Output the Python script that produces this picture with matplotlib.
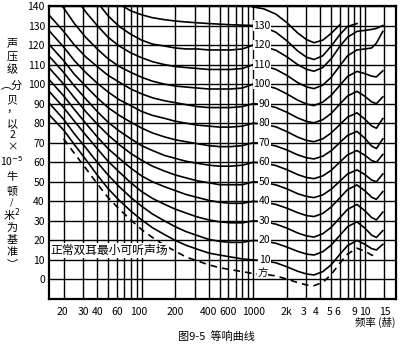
import matplotlib
matplotlib.use('Agg')
import matplotlib.pyplot as plt
import numpy as np
from matplotlib.transforms import ScaledTranslation

plt.rcParams['font.family'] = ['Noto Sans CJK SC', 'DejaVu Sans']

# frequency grid (Hz) the readings were taken at
freq = [15, 20, 25, 31.5, 40, 50, 63, 80, 100, 125, 160, 200, 250, 315, 400, 500, 630, 800, 1000,
        1250, 1600, 2000, 2500, 3000, 3500, 4200, 5000, 6000, 7000, 8500, 10000, 11500, 12700, 14500]

# sound pressure level (dB) of each equal-loudness contour, None = not drawn
maf = [None, 72, 64.5, 57, 49, 42, 36, 30.5, 25.5, 21.5, 17.5, 14.5, 11.5, 9.5, 7.5, 6, 5, 4, 3,
       2.7, 1.8, 0.2, -1.6, -2.8, -3.2, -1.5, 2.5, 8.5, 13, 16, 14.5, 12.5, 11.8, None]
phon_10 = [84, 76.5, 69, 61.5, 53.5, 46.5, 40.5, 35, 30.5, 26.5, 23, 20, 17.5, 15.5, 13.5, 12.5, 11.5, 10.5, 10,
           9.6, 8.5, 6.5, 4.2, 2.8, 2.3, 4, 7.5, 13, 17.3, 20, 18, 15.8, 15.1, 18]
phon_20 = [90, 82, 74.5, 67.5, 60, 53.5, 47.5, 42, 37.5, 33.5, 30, 27, 24.5, 22.5, 20.5, 19.5, 19, 19, 20,
           19.6, 18.5, 16.6, 14.4, 13, 12.5, 14.2, 17.6, 22.7, 27, 29.5, 26.3, 22.7, 21.5, 25]
phon_30 = [96, 88, 81, 74, 67, 60.5, 55, 49.5, 45, 41.5, 38.5, 36, 34, 32, 30.5, 29.5, 29, 29, 30,
           29.6, 28.3, 26.3, 23.8, 22.3, 21.7, 23.4, 26.7, 31.7, 35.9, 38.4, 35.2, 31.7, 30.5, 34.5]
phon_40 = [102, 94, 87, 80, 73, 67, 62, 57, 53, 50, 47.5, 45.5, 43.5, 42, 40.5, 39.5, 39, 39, 40,
           39.6, 38.4, 36.5, 34.2, 32.7, 32.2, 33.8, 37.1, 41.9, 46, 48.4, 45.4, 42.1, 41, 45]
phon_50 = [108, 100, 93, 86, 79.5, 74, 69, 64.5, 61, 58, 55.5, 53.5, 52, 50.5, 49.5, 48.5, 48.5, 48.5, 50,
           49.6, 48.4, 46.4, 43.9, 42.5, 41.9, 43.3, 46.2, 50.4, 54, 56.1, 53.7, 50.9, 50, 54]
phon_60 = [114, 106, 99, 92.5, 86, 80.5, 76, 72, 68.5, 66, 63.5, 62, 60.5, 59.5, 58.5, 58, 58, 58.5, 60,
           59.6, 58.3, 56.2, 53.7, 52.2, 51.6, 53, 55.9, 60.2, 63.8, 66, 63.6, 60.9, 60, 64]
phon_70 = [120, 112, 105, 99, 93, 88, 84, 80.5, 77.5, 75, 73, 71.5, 70.5, 69.5, 68.5, 68, 68, 68.5, 70,
           69.6, 68.3, 66.3, 63.8, 62.3, 61.7, 63.1, 65.9, 70.2, 73.7, 75.8, 72.3, 68.3, 67, 72]
phon_80 = [127, 119, 112, 106, 100.5, 96, 92, 89, 86, 84, 82.5, 81, 80, 79, 78.5, 78, 78, 78.5, 80,
           79.5, 78.1, 75.7, 72.9, 71.2, 70.5, 72, 75, 79.4, 83.1, 85.3, 82.1, 78.6, 77.4, 82.4]
phon_90 = [135, 127, 120, 114, 109, 104.5, 101, 97.5, 95, 93, 91.5, 90.5, 89.5, 88.5, 88, 88, 88, 88.5, 90,
           89.5, 88, 85.6, 82.7, 80.9, 80.2, 81.8, 85, 89.9, 93.9, 96.3, 93.8, 90.9, 90, 93.5]
phon_100 = [147, 139, 131, 124, 118, 113, 109, 106, 103.5, 101.5, 100, 99, 98.5, 98, 97.5, 97.5, 97.5, 98, 100,
            99.5, 97.8, 95, 91.8, 89.8, 89, 90.8, 94.3, 99.5, 103.9, 106.5, 105.4, 104.1, 103.7, 106.8]
phon_110 = [None, 153, 145, 137, 130, 124, 119.5, 116, 113.5, 111.5, 110, 109, 108.5, 108, 107.5, 107.5, 107.5, 108, 110,
            109.4, 107.5, 104.5, 100.8, 98.6, 97.7, 99.5, 103.5, 109.5, 114.5, 117.5, 118, 118.5, 121, 127]
phon_120 = [None, None, None, 150, 142, 135, 129.5, 125.5, 122.5, 120.5, 119.5, 118.5, 118, 118, 117.5, 117.5, 117.5, 118, 120,
            119.3, 117.3, 114, 110, 107.6, 106.6, 108.5, 113, 119.5, 124, 127, 127.5, 128, 128.5, 130]
phon_130 = [None, None, None, None, None, None, 141, 137.5, 135.5, 134, 133, 132.3, 131.8, 131.4, 131, 130.7, 130.4, 130.2, 130,
            129.2, 126.5, 122.2, 117, 113.8, 112.6, 114.5, 119.5, 125.5, 129.5, 131, None, None, None, None]
phon_140 = [None] * 17 + [141, 139.5,
            138.5, 135.8, 131.5, 126.2, 122.8, 121.2, 122.5, 126, 130.5, None, None, None, None, None, None]

solid_curves = [phon_10, phon_20, phon_30, phon_40, phon_50, phon_60, phon_70,
                phon_80, phon_90, phon_100, phon_110, phon_120, phon_130, phon_140]
phon_labels = ['10', '20', '30', '40', '50', '60', '70', '80', '90', '100', '110', '120', '130']
phon_levels = [10, 20, 30, 40, 50, 60, 70, 80, 90, 100, 110, 120, 130]

ytick_vals = list(range(0, 150, 10))
xtick_vals = [20, 30, 40, 60, 100, 200, 400, 600, 1000, 2000, 3000, 4000, 5000, 6000, 9000, 10000, 15000]
xtick_text = ['20', '30', '40', '60', '100', '200', '400', '600', '1000', '2k', '3', '4', '5', '6', '9', '10', '15']
xtick_shift = [-1, 0, 0, 0, -2, 0, 0, 0, 0, 0, -2, -3, -1, -2, -4, 0, 0]
grid_freq = [20, 30, 40, 50, 60, 70, 80, 90, 100, 200, 300, 400, 500, 600, 700, 800, 900, 1000,
             2000, 3000, 4000, 5000, 6000, 7000, 8000, 9000, 10000, 15000]

fig = plt.figure(figsize=(4.12, 3.52), dpi=100)
ax = fig.add_axes([0.119, 0.1506, 0.842, 0.8324])
ax.set_xscale('log')
ax.set_xlim(14.8, 19000)
ax.set_ylim(-10, 140)

# grid lines: drawn straight at the grid positions
for g in grid_freq:
    ax.axvline(g, color='black', linewidth=1.0, zorder=1)
for lev in range(-10, 150, 10):
    ax.axhline(lev, color='black', linewidth=1.0, zorder=1)

for c in solid_curves:
    ax.plot(freq, np.array(c, dtype=float), color='black', linewidth=1.2, zorder=2)
ax.plot(freq, np.array(maf, dtype=float), color='black', linewidth=1.2, linestyle=(0, (4, 3)), zorder=2)

# ticks
ax.set_xticks(xtick_vals)
ax.set_xticklabels(xtick_text, fontsize=7.5)
ax.minorticks_off()
ax.set_yticks(ytick_vals)
ax.set_yticklabels([str(v) for v in ytick_vals], fontsize=7.5)
ax.tick_params(which='both', length=0)
ax.tick_params(axis='x', pad=6)
ax.tick_params(axis='y', pad=3)
for lab, dx in zip(ax.get_xticklabels(), xtick_shift):
    lab.set_transform(lab.get_transform() + ScaledTranslation(dx / 72, 0, fig.dpi_scale_trans))
for s in ax.spines.values():
    s.set_linewidth(1.6)

# phon labels at 1000 Hz
for lab, lev in zip(phon_labels, phon_levels):
    ax.text(1420, lev, lab, fontsize=7.5, ha='right', va='center', zorder=3,
            bbox=dict(facecolor='white', edgecolor='none', pad=0.2))
ax.text(1350, 3.3, '方', fontsize=7.5, ha='right', va='center', zorder=3,
        bbox=dict(facecolor='white', edgecolor='none', pad=0.2))

ax.text(15.2, 14.8, '正常双耳最小可听声场', fontsize=8.5, ha='left', va='center', zorder=3,
        bbox=dict(facecolor='white', edgecolor='none', pad=0.5))

# axis titles and caption
fig.text(0.91, 0.085, '频率 (赫)', fontsize=7.5, ha='center', va='center')
fig.text(0.525, 0.043, '图9-5  等响曲线', fontsize=8, ha='center', va='center')

ylab_chars = ['声', '压', '级', '︵分', '贝', '，', '以', '2', '×', '10$^{-5}$', '牛', '顿', '/', '米$^2$',
              '为', '基', '准', '︶']
ylab_px = [43, 57, 70, 86, 100, 109, 124, 135, 147, 161, 177, 191, 202, 215, 228, 240, 252, 264]
ylab_size = [8, 8, 8, 8, 8, 8, 8, 7.5, 7.5, 7.5, 8, 8, 6.5, 8, 8, 8, 8, 8]
for ch, py, fs in zip(ylab_chars, ylab_px, ylab_size):
    fig.text(12 / 412, 1 - py / 352, ch, fontsize=fs, ha='center', va='center')

fig.savefig('out.png', dpi=100)
